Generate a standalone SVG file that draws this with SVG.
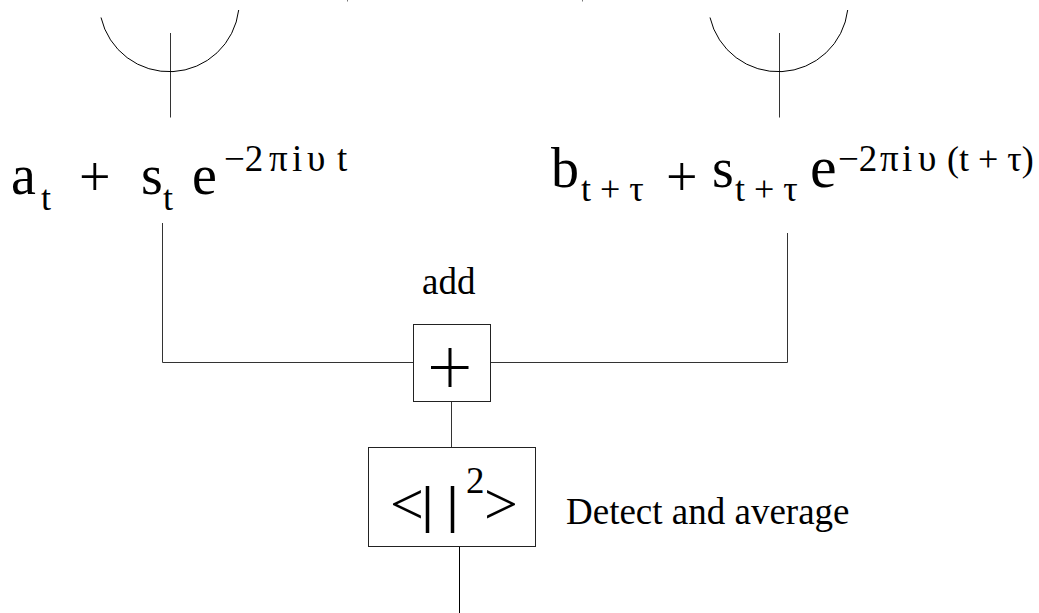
<svg xmlns="http://www.w3.org/2000/svg" width="1039" height="613" viewBox="0 0 1039 613">
<style>
.l{fill:none;stroke:#000;stroke-width:1}
.g{fill:none;stroke:#333;stroke-width:1}
text{font-family:"Liberation Serif","Times New Roman",serif;fill:#000}
.big{font-size:56px}
.op{font-size:60px}
.sub{font-size:36px}
.sup{font-size:37px}
.par{font-size:36px}
.lab{font-size:37px}
.box{fill:#fff;stroke:#222;stroke-width:1}
</style>
<rect width="1039" height="613" fill="#fff"/>
<g id="connectors">
<path class="g" d="M170.500 33V117.500"/>
<path class="g" d="M779.500 33V117.500"/>
<path class="g" d="M162.500 223V362.500H413.500"/>
<path class="g" d="M490.500 362.500H787.500V233"/>
<path class="g" d="M451.500 401V447"/>
<path class="l" d="M459.500 547V613"/>
</g>
<g id="antenna-a"><path class="l" d="M101 17.500A70 70 0 0 0 238.700 10"/></g>
<g id="antenna-b"><path class="l" d="M710 17.500A70 70 0 0 0 847.700 10"/></g>
<g id="clipped-marks"><path d="M347.500 0V1.500M582.500 0V1.500" fill="none" stroke="#777" stroke-width="1"/></g>
<g id="expr-a">
<text class="big" x="11" y="194">a</text>
<text class="sub" x="41" y="210">t</text>
<text class="big" x="79" y="196">+</text>
<text class="big" x="141" y="194">s</text>
<text class="sub" x="163" y="210">t</text>
<text class="big" x="192" y="194">e</text>
<text class="sup" x="224" y="171">−2</text>
<text class="sup" x="269" y="171">π</text>
<text class="sup" x="292" y="171">i</text>
<text class="sup" x="307" y="171">υ</text>
<text class="sup" x="337" y="171">t</text>
</g>
<g id="expr-b">
<text class="big" x="551" y="187">b</text>
<text class="sub" x="581" y="201">t + τ</text>
<text class="big" x="666" y="196">+</text>
<text class="big" x="712" y="187">s</text>
<text class="sub" x="735" y="201">t + τ</text>
<text class="op" x="810" y="187">e</text>
<text class="sup" x="838" y="171">−2</text>
<text class="sup" x="880" y="171">π</text>
<text class="sup" x="902" y="171">i</text>
<text class="sup" x="918" y="171">υ</text>
<text class="par" x="947" y="171">(t + τ)</text>
</g>
<g id="add">
<text class="lab" x="422" y="294">add</text>
<rect class="box" x="413.500" y="324.500" width="77" height="77"/>
<path d="M431 367.500H468.500M450 348V387" fill="none" stroke="#000" stroke-width="3"/>
</g>
<g id="detect">
<rect class="box" x="368.500" y="447.500" width="167" height="99"/>
<text class="op" x="390" y="524">&lt;</text>
<path d="M427.500 486V533M452.500 486V533" fill="none" stroke="#000" stroke-width="3.500"/>
<text class="sup" x="466" y="493">2</text>
<text class="op" x="484" y="524">&gt;</text>
<text class="lab" x="566" y="524">Detect and average</text>
</g>
</svg>
